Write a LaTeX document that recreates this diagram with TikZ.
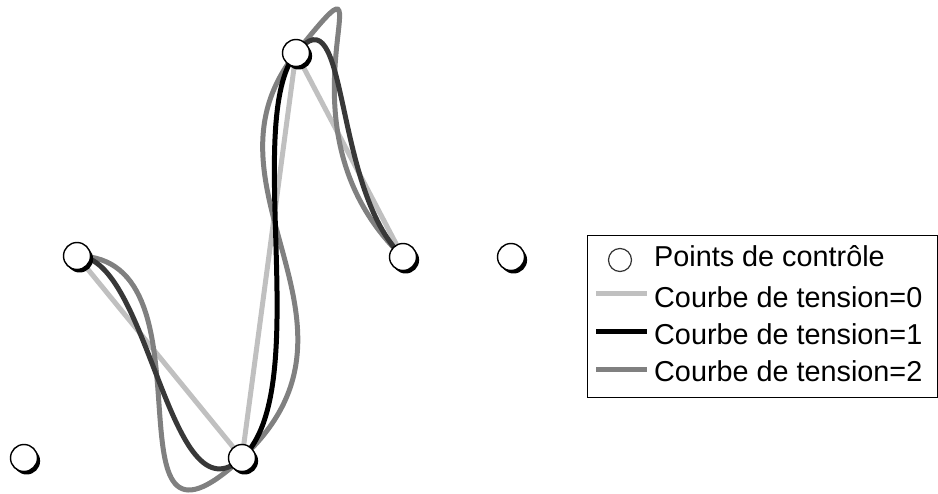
\documentclass[tikz,border=0pt]{standalone}
\usepackage{fontspec}
\setmainfont{Liberation Sans}
\usetikzlibrary{calc}
\definecolor{tzero}{HTML}{C0C0C0}
\definecolor{ttwo}{HTML}{808080}
\definecolor{tonedark}{HTML}{383838}
\definecolor{tone}{HTML}{000000}
\begin{document}
\begin{tikzpicture}[x=1pt,y=-1pt,
  curvezero/.style={draw=tzero, line width=5pt},
  curveone/.style={draw=tone, line width=5pt},
  curveonedark/.style={draw=tonedark, line width=5pt},
  curvetwo/.style={draw=ttwo, line width=5pt},
  ctrlpt/.style={circle, draw=black, fill=white, line width=1.4pt, minimum size=27pt, inner sep=0pt},
  ctrlshadow/.style={circle, fill=black, minimum size=27pt, inner sep=0pt},
  legtext/.style={anchor=base west, inner sep=0pt, font=\fontsize{28.8}{32}\selectfont}]
\useasboundingbox (0,0) rectangle (938,494);

% control points
\coordinate (P0) at (24,458);
\coordinate (P1) at (77,256);
\coordinate (P2) at (242,458);
\coordinate (P3) at (296,53);
\coordinate (P4) at (403,257);
\coordinate (P5) at (511,257);

% tension = 0 : straight segments
\draw[curvezero] (P1) -- (P2) -- (P3) -- (P4);

% tension = 2 : k = 2/3
\draw[curvetwo] (P1)
  .. controls ($(P1)+0.6667*(P2)-0.6667*(P0)$) and ($(P2)-0.6667*(P3)+0.6667*(P1)$) .. (P2)
  .. controls ($(P2)+0.6667*(P3)-0.6667*(P1)$) and ($(P3)-0.6667*(P4)+0.6667*(P2)$) .. (P3)
  .. controls ($(P3)+0.6667*(P4)-0.6667*(P2)$) and ($(P4)-0.6667*(P5)+0.6667*(P3)$) .. (P4);

% tension = 1 : k = 1/3
\draw[curveonedark] (P1)
  .. controls ($(P1)+0.3333*(P2)-0.3333*(P0)$) and ($(P2)-0.3333*(P3)+0.3333*(P1)$) .. (P2);
\draw[curveonedark] (P3)
  .. controls ($(P3)+0.3333*(P4)-0.3333*(P2)$) and ($(P4)-0.3333*(P5)+0.3333*(P3)$) .. (P4);
\draw[curveone] (P2)
  .. controls ($(P2)+0.3333*(P3)-0.3333*(P1)$) and ($(P3)-0.3333*(P4)+0.3333*(P2)$) .. (P3);

% control point markers
\foreach \i in {0,...,5}{
  \node[ctrlshadow] (s\i) at ($(P\i)+(2.6,3)$) {};
  \node[ctrlpt] (c\i) at (P\i) {};
}

% legend
\node[draw=black, line width=1.4pt, minimum width=350pt, minimum height=162pt, inner sep=0pt, anchor=north west] (legend) at (587,235) {};
\node[circle, draw=black!80, line width=1.2pt, minimum size=23pt, inner sep=0pt] (lc) at (620,260) {};
\node[legtext] (l0) at (654,267) {Points de contrôle};
\coordinate (a1) at (596,294); \coordinate (b1) at (647,294);
\coordinate (a2) at (596,332); \coordinate (b2) at (647,332);
\coordinate (a3) at (596,370); \coordinate (b3) at (647,370);
\draw[curvezero] (a1) -- (b1);
\draw[curveone] (a2) -- (b2);
\draw[curvetwo] (a3) -- (b3);
\node[legtext] (l1) at (654,307.5) {Courbe de tension=0};
\node[legtext] (l2) at (654,344.5) {Courbe de tension=1};
\node[legtext] (l3) at (654,382) {Courbe de tension=2};
\end{tikzpicture}
\end{document}
